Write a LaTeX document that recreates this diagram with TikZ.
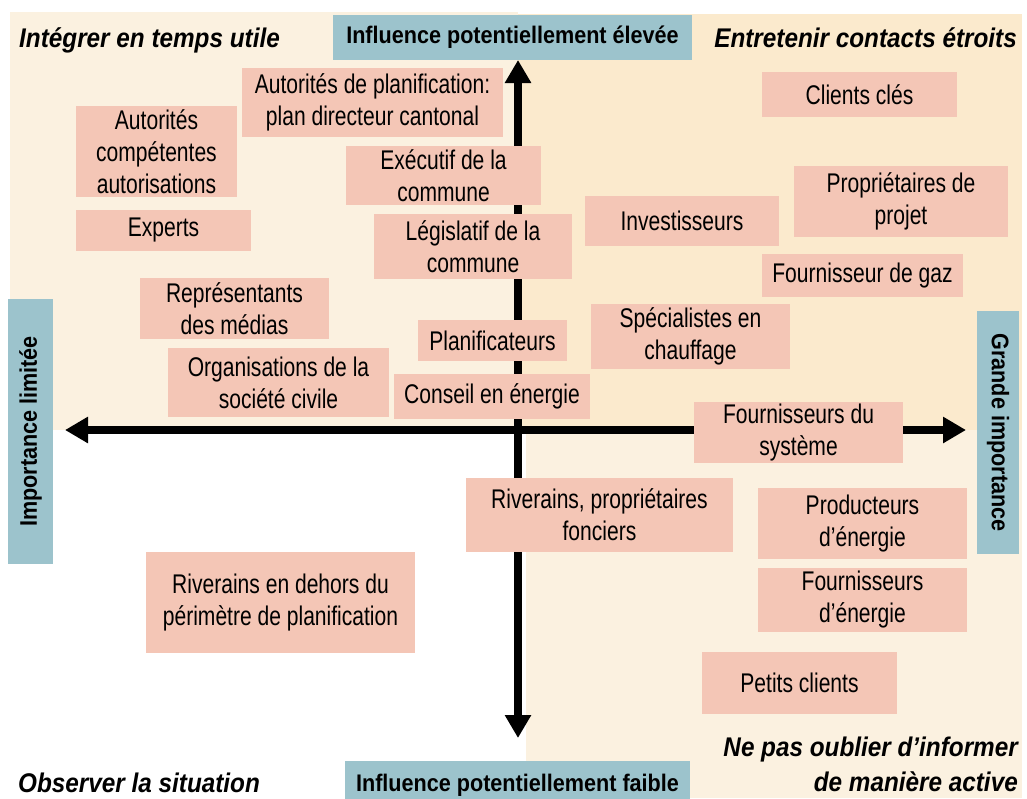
\documentclass[tikz,border=0pt]{standalone}
\usepackage{fontspec}
\setmainfont{Liberation Sans}
\newfontfamily\boxfont{Liberation Sans}[FakeStretch=0.78]
\newfontfamily\headfont{Liberation Sans}[FakeStretch=0.9]
\usetikzlibrary{arrows.meta}
\definecolor{stakepink}{HTML}{F4C6B6}
\definecolor{labelblue}{HTML}{9CC3CC}
\definecolor{creamlight}{HTML}{FBF1E0}
\definecolor{creamdark}{HTML}{FBEACD}

\begin{document}
\begin{tikzpicture}[x=1pt,y=-1pt,
	stakebox/.style={fill=stakepink, inner sep=0pt, align=center, font=\boxfont\fontsize{27}{32}\selectfont},
	axislabel/.style={fill=labelblue, inner sep=0pt, font=\headfont\bfseries\fontsize{24}{28}\selectfont},
	quadtitle/.style={inner sep=0pt, font=\headfont\bfseries\itshape\fontsize{27}{35}\selectfont},
	axisarrow/.style={line width=8pt, {Triangle[length=23pt,width=25pt]}-{Triangle[length=23pt,width=25pt]}}]
\useasboundingbox (0,0) rectangle (1027,798);
% quadrants
\fill[creamlight] (10,12) rectangle (518,430);
\fill[creamdark] (518,14) rectangle (1022,430);
\fill[creamlight] (526,430) rectangle (1022,798);

\coordinate (west) at (65,430);
\coordinate (east) at (966,430);
\coordinate (north) at (518,60);
\coordinate (south) at (518,738);
\draw[axisarrow] (west) -- (east);
\draw[axisarrow] (north) -- (south);

\node[axislabel, minimum width=359pt, minimum height=45pt] (high) at (512.5,37.5) {Influence potentiellement élevée};
\node[axislabel, minimum width=345pt, minimum height=48pt] (low) at (517.5,785) {Influence potentiellement faible};
\node[axislabel, rotate=90, minimum width=265pt, minimum height=45pt] (minor) at (30.5,431.5) {Importance limitée};
\node[axislabel, rotate=-90, minimum width=243pt, minimum height=42pt] (major) at (998,432.5) {Grande importance};

\node[quadtitle, anchor=base west] (integrer) at (19,47) {Intégrer en temps utile};
\node[quadtitle, anchor=base east] (entretenir) at (1017,47) {Entretenir contacts étroits};
\node[quadtitle, anchor=base west] (observer) at (18,792) {Observer la situation};
\node[quadtitle, anchor=east, align=right] (informer) at (1018,764) {Ne pas oublier d’informer\\de manière active};

% top left
\node[stakebox, minimum width=261pt, minimum height=69pt] (planif) at (372.5,102.5) {Autorités de planification:\\plan directeur cantonal};
\node[stakebox, minimum width=161pt, minimum height=91pt] (autorites) at (156.5,151.5) {Autorités\\compétentes\\autorisations};
\node[stakebox, minimum width=175pt, minimum height=41pt] (experts) at (163.5,230.5) {Experts};
\node[stakebox, minimum width=195pt, minimum height=59pt] (executif) at (443.5,175.5) {Exécutif de la\\commune};
\node[stakebox, minimum width=198pt, minimum height=65pt] (legislatif) at (473,246.5) {Législatif de la\\commune};
\node[stakebox, minimum width=189pt, minimum height=61pt] (medias) at (234.5,308.5) {Représentants\\des médias};
\node[stakebox, minimum width=149pt, minimum height=41pt] (planificateurs) at (492.5,340.5) {Planificateurs};
\node[stakebox, minimum width=221pt, minimum height=69pt] (societe) at (278.5,382.5) {Organisations de la\\société civile};
\node[stakebox, minimum width=196pt, minimum height=45pt] (conseil) at (492,396.5) {Conseil en énergie};
% top right
\node[stakebox, minimum width=195pt, minimum height=45pt] (cles) at (859.5,94.5) {Clients clés};
\node[stakebox, minimum width=214pt, minimum height=71pt] (projet) at (901,201.5) {Propriétaires de\\projet};
\node[stakebox, minimum width=194pt, minimum height=50pt] (invest) at (682,221) {Investisseurs};
\node[stakebox, minimum width=201pt, minimum height=43pt] (gaz) at (862.5,275.5) {Fournisseur de gaz};
\node[stakebox, minimum width=199pt, minimum height=65pt] (chauffage) at (690.5,336.5) {Spécialistes en\\chauffage};
% bottom
\node[stakebox, minimum width=209pt, minimum height=61pt] (systeme) at (798.5,432.5) {Fournisseurs du\\système};
\node[stakebox, minimum width=267pt, minimum height=74pt] (fonciers) at (599.5,515) {Riverains, propriétaires\\fonciers};
\node[stakebox, minimum width=209pt, minimum height=71pt] (producteurs) at (862.5,523.5) {Producteurs\\d’énergie};
\node[stakebox, minimum width=209pt, minimum height=64pt] (fournisseurs) at (862.5,600) {Fournisseurs\\d’énergie};
\node[stakebox, minimum width=195pt, minimum height=62pt] (petits) at (799.5,683) {Petits clients};
\node[stakebox, minimum width=269pt, minimum height=101pt] (perimetre) at (280.5,602.5) {Riverains en dehors du\\périmètre de planification};
\end{tikzpicture}
\end{document}
